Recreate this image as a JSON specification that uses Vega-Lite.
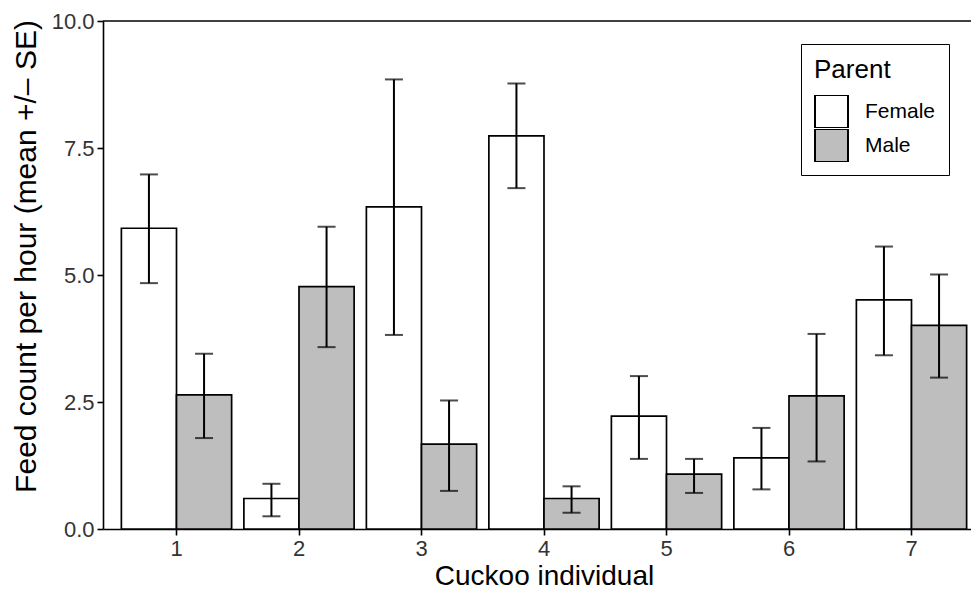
{
  "$schema": "https://vega.github.io/schema/vega-lite/v6.json",
  "autosize": {"type": "none"},
  "padding": {"left": 103, "top": 21, "right": 0, "bottom": 60},
  "width": 868,
  "height": 508,
  "background": "white",
  "config": {
    "view": {"stroke": null},
    "font": "Liberation Sans",
    "axis": {
      "grid": false,
      "domainColor": "black",
      "domainWidth": 1.6,
      "tickColor": "black",
      "tickWidth": 1.6,
      "tickSize": 6,
      "labelPadding": 3,
      "labelFontSize": 22,
      "labelColor": "#333333",
      "labelFont": "Liberation Sans",
      "titleFont": "Liberation Sans",
      "titleFontSize": 28,
      "titleFontWeight": "normal",
      "titleColor": "black"
    },
    "legend": {
      "titleFont": "Liberation Sans",
      "labelFont": "Liberation Sans"
    }
  },
  "data": {
    "values": [
      {"cuckoo": "1", "parent": "Female", "mean": 5.92, "lo": 4.84, "hi": 6.98},
      {"cuckoo": "1", "parent": "Male", "mean": 2.64, "lo": 1.79, "hi": 3.45},
      {"cuckoo": "2", "parent": "Female", "mean": 0.60, "lo": 0.25, "hi": 0.89},
      {"cuckoo": "2", "parent": "Male", "mean": 4.77, "lo": 3.58, "hi": 5.95},
      {"cuckoo": "3", "parent": "Female", "mean": 6.34, "lo": 3.82, "hi": 8.85},
      {"cuckoo": "3", "parent": "Male", "mean": 1.67, "lo": 0.75, "hi": 2.53},
      {"cuckoo": "4", "parent": "Female", "mean": 7.74, "lo": 6.71, "hi": 8.77},
      {"cuckoo": "4", "parent": "Male", "mean": 0.60, "lo": 0.32, "hi": 0.84},
      {"cuckoo": "5", "parent": "Female", "mean": 2.22, "lo": 1.38, "hi": 3.01},
      {"cuckoo": "5", "parent": "Male", "mean": 1.08, "lo": 0.71, "hi": 1.38},
      {"cuckoo": "6", "parent": "Female", "mean": 1.40, "lo": 0.78, "hi": 1.99},
      {"cuckoo": "6", "parent": "Male", "mean": 2.62, "lo": 1.33, "hi": 3.84},
      {"cuckoo": "7", "parent": "Female", "mean": 4.51, "lo": 3.42, "hi": 5.56},
      {"cuckoo": "7", "parent": "Male", "mean": 4.01, "lo": 2.98, "hi": 5.01}
    ]
  },
  "encoding": {
    "x": {
      "field": "cuckoo",
      "type": "nominal",
      "sort": null,
      "scale": {"type": "band", "paddingInner": 0.1, "paddingOuter": 0.15, "range": [0, 882]},
      "axis": {"title": "Cuckoo individual", "labelAngle": 0, "titlePadding": 3}
    },
    "xOffset": {
      "field": "parent",
      "type": "nominal",
      "scale": {"domain": ["Female", "Male"], "paddingInner": 0, "paddingOuter": 0}
    }
  },
  "layer": [
    {
      "mark": {"type": "bar", "stroke": "black", "strokeWidth": 1.7},
      "encoding": {
        "y": {
          "field": "mean",
          "type": "quantitative",
          "scale": {"domain": [0, 10], "nice": false},
          "axis": {
            "title": "Feed count per hour (mean +/– SE)",
            "values": [0, 2.5, 5, 7.5, 10],
            "format": ".1f",
            "titleFontSize": 30,
            "titleX": -62,
            "titleY": 235
          }
        },
        "fill": {
          "field": "parent",
          "type": "nominal",
          "scale": {"domain": ["Female", "Male"], "range": ["#FFFFFF", "#BEBEBE"]},
          "legend": {
            "title": "Parent",
            "orient": "none",
            "legendX": 698,
            "legendY": 23,
            "padding": 13,
            "strokeColor": "black",
            "fillColor": "white",
            "titleFontSize": 26,
            "titleFontWeight": "normal",
            "titleColor": "black",
            "titlePadding": 12,
            "labelFontSize": 21,
            "labelColor": "black",
            "labelOffset": 16,
            "rowPadding": 1,
            "clipHeight": 33,
            "symbolType": "square",
            "symbolSize": 1089,
            "symbolStrokeColor": "black",
            "symbolStrokeWidth": 2
          }
        }
      }
    },
    {
      "mark": {"type": "rule", "color": "black", "strokeWidth": 2},
      "encoding": {
        "y": {"field": "lo", "type": "quantitative"},
        "y2": {"field": "hi"}
      }
    },
    {
      "mark": {"type": "tick", "color": "black", "thickness": 2, "size": 18, "orient": "horizontal"},
      "encoding": {
        "y": {"field": "lo", "type": "quantitative"}
      }
    },
    {
      "mark": {"type": "tick", "color": "black", "thickness": 2, "size": 18, "orient": "horizontal"},
      "encoding": {
        "y": {"field": "hi", "type": "quantitative"}
      }
    },
    {
      "data": {"values": [{"top": 10}]},
      "mark": {"type": "rule", "color": "black", "strokeWidth": 1.6},
      "encoding": {
        "x": null,
        "xOffset": null,
        "y": {"field": "top", "type": "quantitative"}
      }
    }
  ]
}
